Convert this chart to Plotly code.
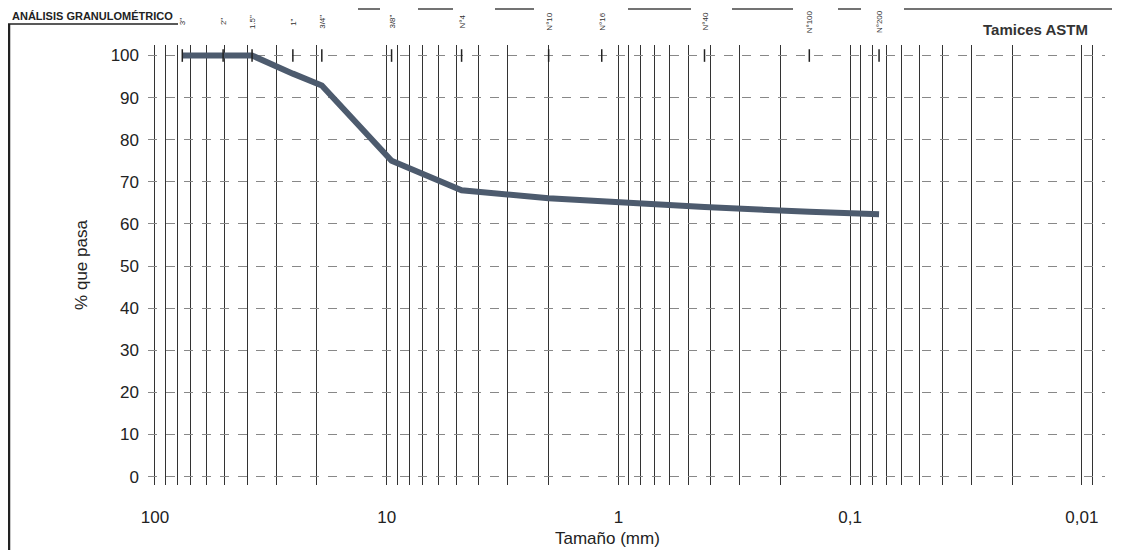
import numpy as np
import plotly.graph_objects as go

# --- data ---
sieve_names = ['3"', '2"', '1.5"', '1"', '3/4"', '3/8"', 'N°4', 'N°10', 'N°16', 'N°40', 'N°100', 'N°200']
sieve_mm = [76.2, 50.8, 38.1, 25.4, 19.05, 9.525, 4.75, 2.0, 1.18, 0.425, 0.15, 0.075]
pct_pass = [100, 100, 100, 95.7, 92.9, 75.0, 68.0, 66.1, 65.3, 64.0, 62.9, 62.3]

decade_vals = [100, 10, 1, 0.1, 0.01]
decade_text = ["100", "10", "1", "0,1", "0,01"]
y_ticks = list(range(0, 101, 10))

# minor log grid values (1..9 per decade)
grid_vals = []
for e in [-3, -2, -1, 0, 1, 2]:
    for m in range(1, 10):
        grid_vals.append(round(m * 10.0 ** e, 6))
grid_text = []
for v in grid_vals:
    if v in decade_vals:
        grid_text.append(decade_text[decade_vals.index(v)])
    else:
        grid_text.append("")

FONT = "Liberation Sans, Arial, sans-serif"

W, H = 1114, 542
L, R, T, B = 140, 17, 37, 65
PW, PH = W - L - R, H - T - B


def px(xpix):
    return (xpix - L) / PW


def py(ypix):
    return 1 + (T - ypix) / PH


fig = go.Figure()

fig.add_trace(go.Scatter(
    x=sieve_mm, y=pct_pass, mode="lines",
    line=dict(color="#4d5b6e", width=6),
    showlegend=False, hoverinfo="x+y"))

fig.add_trace(go.Scatter(
    x=sieve_mm, y=[100] * len(sieve_mm), mode="markers",
    marker=dict(symbol="line-ns-open", size=9, color="#222",
                line=dict(color="#222", width=1.5)),
    name="Tamices ASTM", showlegend=False, hoverinfo="x"))

# sieve labels above the plot
for name, d in zip(sieve_names, sieve_mm):
    fig.add_annotation(x=np.log10(d), xref="x", y=py(14), yref="paper",
                       yanchor="middle", text=name, textangle=-90, showarrow=False,
                       font=dict(family=FONT, size=8, color="#333"))

fig.add_annotation(x=px(1082), xref="paper", y=py(22), yref="paper",
                   xanchor="right", yanchor="middle",
                   text="<b>Tamices ASTM</b>", showarrow=False,
                   font=dict(family=FONT, size=15, color="#333"))

fig.add_annotation(x=px(2), xref="paper", y=py(16), yref="paper",
                   xanchor="left", yanchor="bottom",
                   text="<b>ANÁLISIS GRANULOMÉTRICO</b>", showarrow=False,
                   font=dict(family=FONT, size=11, color="#222"))

# x-axis title
fig.add_annotation(x=px(599), xref="paper", y=py(530), yref="paper",
                   xanchor="center", yanchor="middle",
                   text="Tamaño (mm)", showarrow=False,
                   font=dict(family=FONT, size=17, color="#222"))

# outer frame fragments
fig.add_shape(type="line", xref="paper", yref="paper",
              x0=px(1), x1=px(1), y0=py(16), y1=py(H),
              line=dict(color="#222", width=2.5))
fig.add_shape(type="line", xref="paper", yref="paper",
              x0=px(0), x1=px(170), y0=py(16), y1=py(16),
              line=dict(color="#222", width=1.5))
for a, b in [(350, 372), (410, 445), (487, 526), (620, 683), (724, 785), (830, 853), (896, 1104)]:
    fig.add_shape(type="line", xref="paper", yref="paper",
                  x0=px(a), x1=px(b), y0=py(1), y1=py(1),
                  line=dict(color="#444", width=1.5))

fig.update_layout(
    width=W, height=H,
    margin=dict(l=L, r=R, t=T, b=B, autoexpand=False),
    paper_bgcolor="white", plot_bgcolor="white",
    font=dict(family=FONT, size=17, color="#222"),
    xaxis=dict(type="log", range=[2.03, -2.1], tickmode="array",
               tickvals=grid_vals, ticktext=grid_text,
               showgrid=True, gridcolor="#333", gridwidth=1,
               zeroline=False, showline=False, ticks="",
               ticklabelstandoff=20, automargin=False),
    yaxis=dict(range=[-2, 102.5], tickmode="array", tickvals=y_ticks,
               showgrid=True, gridcolor="#888", gridwidth=1, griddash="dash",
               zeroline=False, showline=False, ticks="",
               ticklabelstandoff=8, automargin=False,
               title=dict(text="% que pasa", font=dict(size=17), standoff=18)),
)

fig.write_html("out.html")
